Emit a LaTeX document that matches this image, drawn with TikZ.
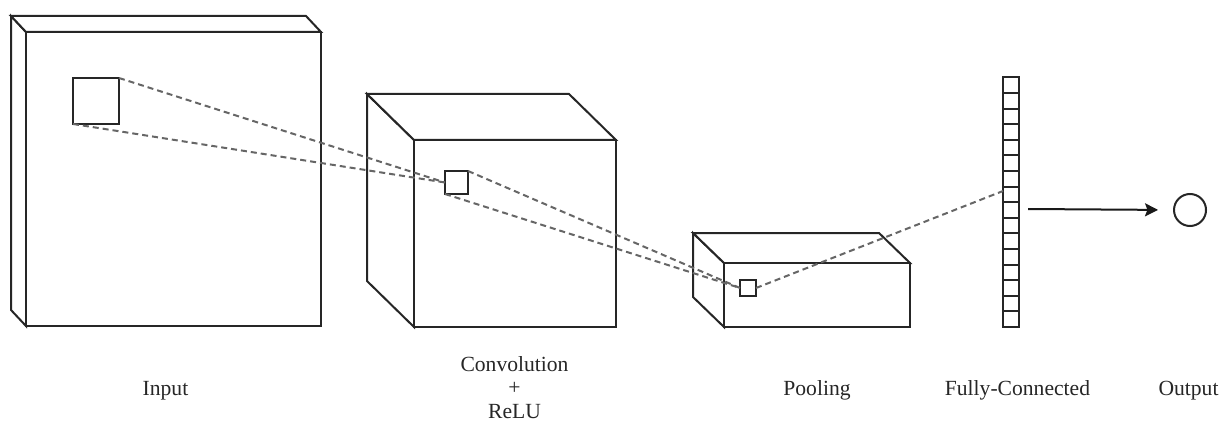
\documentclass[tikz,border=0pt]{standalone}
\usepackage{fontspec}
\setmainfont{Liberation Serif}
\usetikzlibrary{arrows.meta}
\begin{document}
\begin{tikzpicture}[x=0.5pt,y=-0.5pt,
  solid line/.style={draw=black!85, line width=1pt, line join=miter},
  face/.style={solid line, fill=white},
  window/.style={solid line, fill=white, rectangle, inner sep=0pt, outer sep=0pt},
  link/.style={draw=black!60, line width=1pt, dash pattern=on 3pt off 2pt},
  cell/.style={solid line, fill=white},
  caption/.style={font=\fontsize{10.8}{11.8}\selectfont, inner sep=0pt, text=black!85}
]
\useasboundingbox (0,0) rectangle (1224,422);

% ---- input volume: left face, top face, front face
\path[face] (11,16) -- (26,32) -- (26,326) -- (11,310) -- cycle;
\path[face] (11,16) -- (306,16) -- (321,32) -- (26,32) -- cycle;
\path[face] (26,32) rectangle (321,326);

% ---- convolution volume
\path[face] (367,94) -- (414,140) -- (414,327) -- (367,281) -- cycle;
\path[face] (367,94) -- (569,94) -- (616,140) -- (414,140) -- cycle;
\path[face] (414,140) rectangle (616,327);

% ---- pooling volume
\path[face] (693,233) -- (724,263) -- (724,327) -- (693,297) -- cycle;
\path[face] (693,233) -- (879,233) -- (910,263) -- (724,263) -- cycle;
\path[face] (724,263) rectangle (910,327);

% ---- receptive-field windows
\node[window, minimum width=23pt, minimum height=23pt] (win1) at (96,101) {};
\node[window, minimum width=11.5pt, minimum height=11.5pt] (win2) at (456.5,182.5) {};
\node[window, minimum width=8pt, minimum height=8pt] (win3) at (748,288) {};

% ---- fully-connected column of 16 units
\foreach \i in {0,...,15}{
  \path[cell] (1003,{77.5+\i*15.59375}) rectangle (1019,{77.5+(\i+1)*15.59375});
}
\coordinate (fcin) at (1003,191);
\coordinate (fcout) at (1028,209);

% ---- output unit
\node[draw=black!85, line width=1pt, circle, minimum size=16pt, inner sep=0pt, outer sep=0pt] (out) at (1190,210) {};

% ---- dashed projections between windows
\draw[link] (win1.north east) -- (win2.west);
\draw[link] (win1.south west) -- (win2.west);
\draw[link] (win2.north east) -- (win3.west);
\draw[link] (win2.south west) -- (win3.west);
\draw[link] (win3.east) -- (fcin);

% ---- output arrow
\draw[black!90, line width=1pt, -{Stealth[length=6.5pt,width=6.5pt,inset=1.2pt]}, shorten >=8pt] (fcout) -- (out.west);

% ---- captions
\node[caption, anchor=base] (lin) at (165.5,395) {Input};
\node[caption, anchor=north, align=center] (lconv) at (514.5,356) {Convolution\\+\\ReLU};
\node[caption, anchor=base] (lpool) at (817,395) {Pooling};
\node[caption, anchor=base] (lfc) at (1017.5,395) {Fully-Connected};
\node[caption, anchor=base] (lout) at (1188.5,395) {Output};
\end{tikzpicture}
\end{document}
